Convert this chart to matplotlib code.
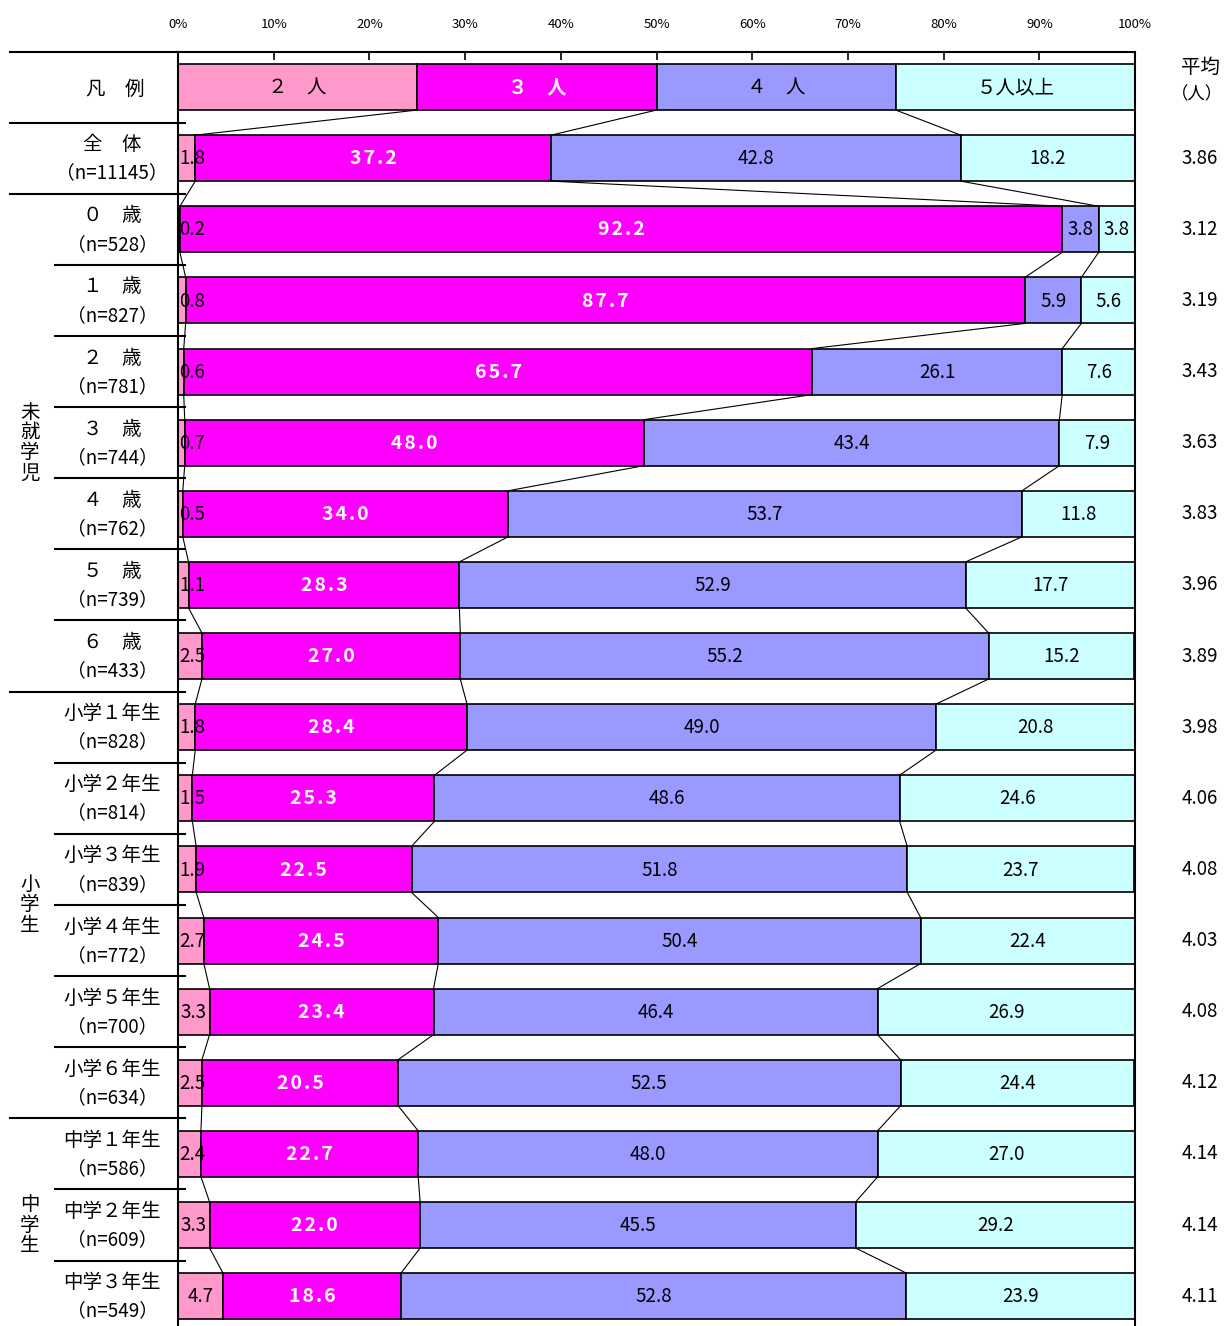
import matplotlib.pyplot as plt
import numpy as np

plt.rcParams['font.family'] = ['Noto Sans CJK JP', 'DejaVu Sans']

# data
categories = ['２　人', '３　人', '４　人', '５人以上']
colors = ['#FF99CC', '#FF00FF', '#9999FF', '#CCFFFF']
row_names = ['全　体', '０　歳', '１　歳', '２　歳', '３　歳', '４　歳', '５　歳', '６　歳',
             '小学１年生', '小学２年生', '小学３年生', '小学４年生', '小学５年生', '小学６年生',
             '中学１年生', '中学２年生', '中学３年生']
n_values = [11145, 528, 827, 781, 744, 762, 739, 433,
            828, 814, 839, 772, 700, 634, 586, 609, 549]
two = [1.8, 0.2, 0.8, 0.6, 0.7, 0.5, 1.1, 2.5, 1.8, 1.5, 1.9, 2.7, 3.3, 2.5, 2.4, 3.3, 4.7]
three = [37.2, 92.2, 87.7, 65.7, 48.0, 34.0, 28.3, 27.0, 28.4, 25.3, 22.5, 24.5, 23.4, 20.5, 22.7, 22.0, 18.6]
four = [42.8, 3.8, 5.9, 26.1, 43.4, 53.7, 52.9, 55.2, 49.0, 48.6, 51.8, 50.4, 46.4, 52.5, 48.0, 45.5, 52.8]
five = [18.2, 3.8, 5.6, 7.6, 7.9, 11.8, 17.7, 15.2, 20.8, 24.6, 23.7, 22.4, 26.9, 24.4, 27.0, 29.2, 23.9]
averages = ['3.86', '3.12', '3.19', '3.43', '3.63', '3.83', '3.96', '3.89',
            '3.98', '4.06', '4.08', '4.03', '4.08', '4.12', '4.14', '4.14', '4.11']
groups = [('未就学児', 5.0), ('小学生', 11.5), ('中学生', 16.0)]


def px(x):
    # pixel x -> percent on the bar axis
    return (x - 178) / 957 * 100


def spaced(s):
    return '\u200a'.join(s)


fig = plt.figure(figsize=(12.25, 13.26), dpi=100)
ax = fig.add_axes([178 / 1225, 0, 957 / 1225, 1274 / 1326])
ax.set_xlim(0, 100)
ax.set_ylim(17.42, -0.4925)

h = 0.647
lw = 1.2

# legend row
leg_vals = [25, 25, 25, 25]
left = 0
for i, v in enumerate(leg_vals):
    ax.barh(0, v, left=left, height=h, color=colors[i], edgecolor='black', linewidth=lw)
    txt_color = 'white' if i == 1 else 'black'
    ax.text(left + v / 2, 0.01, categories[i], ha='center', va='center', fontsize=14,
            color=txt_color, fontweight='bold' if i == 1 else 'normal')
    left += v

data = np.array([two, three, four, five]).T
bounds_prev = np.cumsum(leg_vals)[:3]

for r in range(len(row_names)):
    y = r + 1
    vals = data[r]
    lefts = np.concatenate([[0], np.cumsum(vals)[:-1]])
    for i in range(4):
        ax.barh(y, vals[i], left=lefts[i], height=h, color=colors[i],
                edgecolor='black', linewidth=lw)
    # labels
    xl = max(0.15, vals[0] / 2 - 1.35)
    ax.text(xl, y + 0.01, f'{vals[0]:.1f}', ha='left', va='center', fontsize=13.5)
    ax.text(lefts[1] + vals[1] / 2, y + 0.01, spaced(f'{vals[1]:.1f}'), ha='center', va='center',
            fontsize=14, color='white', fontweight='bold')
    ax.text(lefts[2] + vals[2] / 2, y + 0.01, f'{vals[2]:.1f}', ha='center', va='center', fontsize=13.5)
    ax.text(lefts[3] + vals[3] / 2, y + 0.01, f'{vals[3]:.1f}', ha='center', va='center', fontsize=13.5)

    # connector lines
    bounds = np.cumsum(vals)[:3]
    for b0, b1 in zip(bounds_prev, bounds):
        ax.plot([b0, b1], [y - 1 + h / 2, y - h / 2], color='black', linewidth=0.8)
    bounds_prev = bounds

    # row labels
    ax.text(px(112), y - 0.19, row_names[r], ha='center', va='center', fontsize=14)
    ax.text(px(112), y + 0.21, f'（n={n_values[r]}）', ha='center', va='center', fontsize=13.5)

    # average
    ax.text(px(1200), y + 0.0, averages[r], ha='center', va='center', fontsize=13.5)

ax.text(px(115), 0.04, '凡　例', ha='center', va='center', fontsize=14)
ax.text(px(1200), -0.28, '平均', ha='center', va='center', fontsize=14)
ax.text(px(1197), 0.1, '（人）', ha='center', va='center', fontsize=12.5)

# separator lines on the left
for yy in [-0.4925, 0.5, 1.5, 8.5, 14.5]:
    ax.plot([px(10), 0.7 if yy > 0 else 0], [yy, yy], color='black', linewidth=1.5, clip_on=False)
for yy in [2.5, 3.5, 4.5, 5.5, 6.5, 7.5, 9.5, 10.5, 11.5, 12.5, 13.5, 15.5, 16.5]:
    ax.plot([px(55), 0.7], [yy, yy], color='black', linewidth=1.5, clip_on=False)

# group labels (vertical)
for name, yc in groups:
    n = len(name)
    for k, ch in enumerate(name):
        ax.text(px(30), yc + (k - (n - 1) / 2) * 0.286, ch, ha='center', va='center', fontsize=14)

# axes styling
ax.xaxis.tick_top()
ax.set_xticks(np.arange(0, 101, 10))
ax.set_xticklabels([f'{t}%' for t in range(0, 101, 10)], fontsize=9.5)
ax.tick_params(axis='x', direction='in', length=6, width=1.2, pad=15)
ax.set_yticks([])
ax.spines['bottom'].set_visible(False)
for s in ['top', 'left', 'right']:
    ax.spines[s].set_linewidth(1.5)

fig.savefig('out.png', dpi=100)
